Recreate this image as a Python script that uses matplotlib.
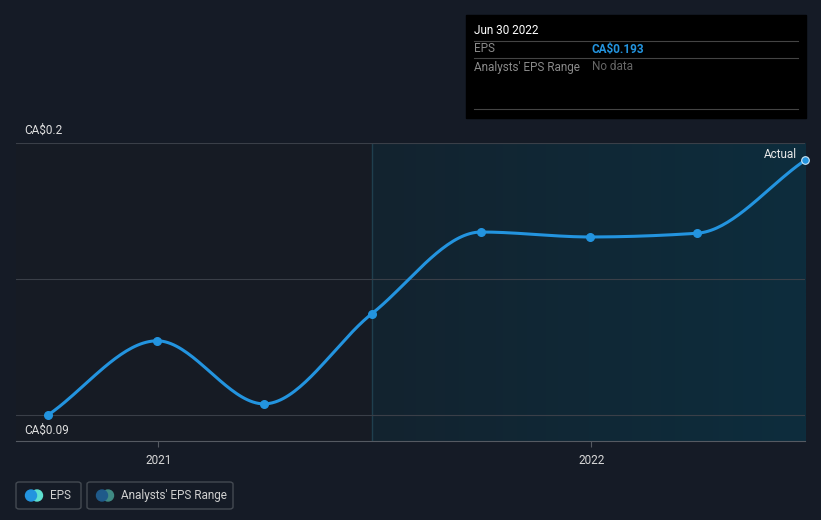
import matplotlib.pyplot as plt
import matplotlib.dates as mdates
import numpy as np
from matplotlib.patches import FancyBboxPatch, Rectangle, Ellipse
from datetime import datetime

# quarterly EPS (CA$)
dates = ["2020-09-30", "2020-12-31", "2021-03-31", "2021-06-30",
         "2021-09-30", "2021-12-31", "2022-03-31", "2022-06-30"]
eps = [0.090, 0.120, 0.0945, 0.131, 0.164, 0.162, 0.1635, 0.193]
y_ticks = [0.09, 0.2]
y_tick_labels = ["CA$0.09", "CA$0.2"]
x_ticks = ["2021-01-01", "2022-01-01"]
x_tick_labels = ["2021", "2022"]

BG = "#151b26"
BLUE = "#2394df"
FS = 8.5

plt.rcParams['font.family'] = ['Roboto', 'DejaVu Sans']


def monotone(x, y, n=40):
    # Fritsch-Carlson monotone cubic, like d3 curveMonotoneX
    x = np.asarray(x, float)
    y = np.asarray(y, float)
    h = np.diff(x)
    d = np.diff(y) / h
    m = np.zeros_like(y)
    m[0], m[-1] = d[0], d[-1]
    for i in range(1, len(y) - 1):
        if d[i - 1] * d[i] <= 0:
            m[i] = 0
        else:
            w1 = 2 * h[i] + h[i - 1]
            w2 = h[i] + 2 * h[i - 1]
            m[i] = (w1 + w2) / (w1 / d[i - 1] + w2 / d[i])
    xs, ys = [], []
    for i in range(len(h)):
        t = np.linspace(0, 1, n)
        h00 = 2 * t**3 - 3 * t**2 + 1
        h10 = t**3 - 2 * t**2 + t
        h01 = -2 * t**3 + 3 * t**2
        h11 = t**3 - t**2
        xs.append(x[i] + t * h[i])
        ys.append(h00 * y[i] + h10 * h[i] * m[i] + h01 * y[i + 1] + h11 * h[i] * m[i + 1])
    return np.concatenate(xs), np.concatenate(ys)


def main():
    xd = mdates.date2num([datetime.strptime(d, "%Y-%m-%d") for d in dates])
    fig = plt.figure(figsize=(8.21, 5.2), dpi=100, facecolor=BG)
    ax = fig.add_axes([16 / 821, 1 - 441 / 520, 789 / 821, 298 / 520])
    ax.set_facecolor(BG)

    x0 = xd[0] - 27
    x1 = xd[-1]
    ymin = 0.09 - 26 / 2473
    ymax = 0.2
    ax.set_xlim(x0, x1)
    ax.set_ylim(ymin, ymax)

    # past region and shaded region after the last year
    ax.add_patch(Rectangle((x0, ymin), xd[3] - x0, ymax - ymin, color="#161b24", zorder=0, lw=0))
    grad = np.linspace(0, 1, 256).reshape(1, -1)
    ax.imshow(grad, extent=(xd[3], x1, ymin, ymax), aspect="auto",
              cmap=plt.matplotlib.colors.LinearSegmentedColormap.from_list("g", ["#13232f", "#0d2d3d"]),
              zorder=0.5)
    ax.axvline(xd[3], color="#1f3f4e", lw=1, zorder=1)

    for yv in [0.09, 0.145, 0.2]:
        ax.axhline(yv, color="#3a3f48", lw=0.8, zorder=1)

    sx, sy = monotone(xd, eps)
    ax.plot(sx, sy, color=BLUE, lw=2.2, zorder=3, solid_capstyle="round")
    ax.scatter(xd[:-1], eps[:-1], s=30, color=BLUE, zorder=4)
    ax.scatter([xd[-1]], [eps[-1]], s=30, color=BLUE, edgecolor="#cfe8f7", lw=0.8, zorder=5, clip_on=False)

    for spine in ["top", "right", "left"]:
        ax.spines[spine].set_visible(False)
    ax.spines["bottom"].set_color("#555a62")
    ax.set_yticks([])
    xt = mdates.date2num([datetime.strptime(d, "%Y-%m-%d") for d in x_ticks])
    ax.set_xticks(xt)
    ax.set_xticklabels(x_tick_labels, fontsize=FS)
    ax.tick_params(axis="x", colors="#555a62", length=4, pad=5, labelcolor="#d8d8d8")

    fig.text(24 / 821, 1 - 130 / 520, y_tick_labels[1], color="#e0e0e0", fontsize=FS, va="center")
    fig.text(24 / 821, 1 - 430 / 520, y_tick_labels[0], color="#e0e0e0", fontsize=FS, va="center")
    fig.text(797 / 821, 1 - 154 / 520, "Actual", color="#e8e8e8", fontsize=FS, va="center", ha="right")

    # tooltip box
    fig.patches.append(Rectangle((466 / 821, 1 - 118 / 520), 340 / 821, 103 / 520,
                                 transform=fig.transFigure, color="#000000", zorder=5))
    fig.text(474 / 821, 1 - 31 / 520, "Jun 30 2022", color="#ffffff", fontsize=FS, va="center", zorder=6)
    for yl in [41, 58, 109]:
        fig.lines.append(plt.Line2D([474 / 821, 798 / 821], [1 - yl / 520] * 2,
                                    transform=fig.transFigure, color="#444444", lw=0.8, zorder=6))
    fig.text(474 / 821, 1 - 49 / 520, "EPS", color="#8a8a8a", fontsize=FS, va="center", zorder=6)
    fig.text(592 / 821, 1 - 49 / 520, "CA$0.193", color=BLUE, fontsize=FS, va="center",
             fontweight="bold", zorder=6)
    fig.text(474 / 821, 1 - 67 / 520, "Analysts' EPS Range", color="#8a8a8a", fontsize=FS,
             va="center", zorder=6)
    fig.text(592 / 821, 1 - 67 / 520, "No data", color="#666666", fontsize=FS, va="center", zorder=6)

    # legend
    for (lx, lw, label, c1, c2) in [(16, 65, "EPS", BLUE, "#5ee0d0"),
                                    (87, 146, "Analysts' EPS Range", "#1f5a8a", "#3f8a84")]:
        fig.patches.append(FancyBboxPatch((lx / 821, 1 - 509 / 520), lw / 821, 27 / 520,
                                          boxstyle="round,pad=0,rounding_size=0.004",
                                          transform=fig.transFigure, fc="none", ec="#444a52", lw=1))
        ay = 1 - 495.5 / 520
        fig.patches.append(Ellipse(((lx + 21) / 821, ay), 11 / 821, 11 / 520,
                                   transform=fig.transFigure, color=c2))
        fig.patches.append(Ellipse(((lx + 15) / 821, ay), 11 / 821, 11 / 520,
                                   transform=fig.transFigure, color=c1))
        fig.text((lx + 34) / 821, ay, label, color="#d0d0d0", fontsize=FS, va="center")

    fig.savefig("out.png", dpi=100, facecolor=BG)


if __name__ == '__main__':
    main()
